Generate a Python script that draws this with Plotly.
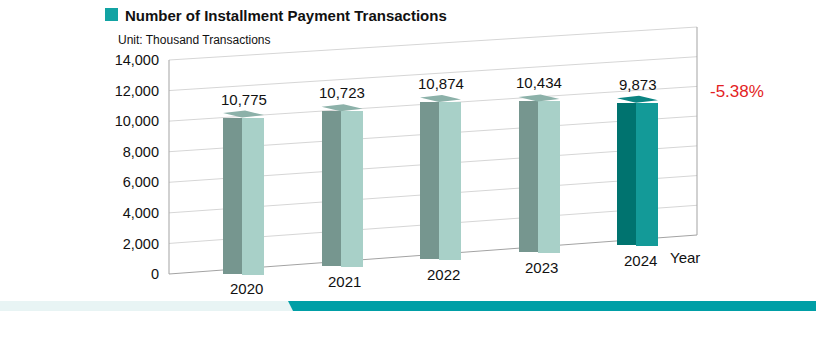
import plotly.graph_objects as go

# ---------------- data ----------------
years = ["2020", "2021", "2022", "2023", "2024"]
transactions = [10775, 10723, 10874, 10434, 9873]
y_ticks = [0, 2000, 4000, 6000, 8000, 10000, 12000, 14000]
y_tick_labels = ["0", "2,000", "4,000", "6,000", "8,000", "10,000", "12,000", "14,000"]
change_label = "-5.38%"
title_text = "Number of Installment Payment Transactions"
unit_text = "Unit: Thousand Transactions"
x_label = "Year"

# ---------------- layout geometry (pixels) ----------------
W, H = 816, 353
L, R, T, B = 169, 119, 20, 38
PW, PH = W - L - R, H - T - B
FONT = "Liberation Sans, Arial, sans-serif"

def px_x(px):
    return (px - L) / PW

def px_y(py):
    return (T + PH - py) / PH

# back wall (perspective parallelogram)
FLOOR_L, FLOOR_R, TOP_L, TOP_R = 274, 235, 60, 27
VMAX = y_ticks[-1]
k = (FLOOR_L - TOP_L) / VMAX
y_lo, y_hi = (FLOOR_L - (T + PH)) / k, (FLOOR_L - T) / k

def wall_right(v):
    py = FLOOR_R - v * (FLOOR_R - TOP_R) / VMAX
    return (FLOOR_L - py) / k

# bars (own overlaying axis for the front plane)
SLOT0_PX, SLOT_W = 242, 98.5
BASE0_PX, BASE_STEP_PX = 276, 7.05
k2 = 0.0147
x_rng = [(0 - (SLOT0_PX - L)) / SLOT_W, (PW - (SLOT0_PX - L)) / SLOT_W]
y2_lo, y2_hi = (BASE0_PX - (T + PH)) / k2, (BASE0_PX - T) / k2
wl, wr = 19 / SLOT_W, 22 / SLOT_W
RAISE_L, RAISE_R = 4.5, 2.5

n = len(years)
xs = list(range(n))
bases = [BASE_STEP_PX * i / k2 for i in xs]
left_cols = ["#76968f"] * (n - 1) + ["#00736f"]
right_cols = ["#a8d0c8"] * (n - 1) + ["#139a98"]
cap_cols = ["#8cb1a9"] * (n - 1) + ["#0b8482"]

fig = go.Figure()

# left (darker) faces
fig.add_trace(go.Bar(
    x=[i - wl / 2 for i in xs], y=[v - 2.5 / k2 for v in transactions],
    base=[b + 2.5 / k2 for b in bases], width=wl,
    marker=dict(color=left_cols, line=dict(width=0)),
    yaxis="y2", hoverinfo="skip", showlegend=False))

# right (lighter) faces
fig.add_trace(go.Bar(
    x=[i + wr / 2 for i in xs], y=[v - 1.5 / k2 for v in transactions],
    base=[b + 1.5 / k2 for b in bases], width=wr,
    marker=dict(color=right_cols, line=dict(width=0)),
    yaxis="y2", hoverinfo="skip", showlegend=False))

# top caps
for i, v in enumerate(transactions):
    top = bases[i] + v
    fig.add_trace(go.Scatter(
        x=[i, i - wl, i - wl + wr, i + wr, i],
        y=[top, top + RAISE_L / k2, top + (RAISE_L + RAISE_R) / k2,
           top + RAISE_R / k2, top],
        mode="lines", fill="toself", fillcolor=cap_cols[i],
        line=dict(width=0, color=cap_cols[i]),
        yaxis="y2", hoverinfo="skip", showlegend=False))

# ---------------- shapes ----------------
shapes = []
for v in y_ticks:
    if v == 0:
        continue
    shapes.append(dict(type="line", xref="paper", yref="y", x0=0, x1=1,
                       y0=v, y1=wall_right(v), layer="below",
                       line=dict(color="#d6d6d6", width=1)))
frame = dict(color="#a3a3a3", width=1)
shapes.append(dict(type="line", xref="paper", yref="y", x0=0, x1=1, y0=0,
                   y1=wall_right(0), layer="below", line=frame))
shapes.append(dict(type="line", xref="paper", yref="y", x0=0, x1=0, y0=0,
                   y1=VMAX, layer="below", line=frame))
shapes.append(dict(type="line", xref="paper", yref="y", x0=1, x1=1,
                   y0=wall_right(0), y1=wall_right(VMAX), layer="below", line=frame))

# title marker square
shapes.append(dict(type="rect", xref="paper", yref="paper",
                   x0=px_x(105), x1=px_x(118), y0=px_y(21), y1=px_y(8),
                   fillcolor="#12a3a3", line=dict(width=0)))

# bottom decorative strip
def path(pts):
    return "M " + " L ".join(f"{px_x(a):.5f},{px_y(b):.5f}" for a, b in pts) + " Z"

shapes.append(dict(type="path", xref="paper", yref="paper",
                   path=path([(0, 301), (288, 301), (293, 311), (0, 311)]),
                   fillcolor="#e8f4f4", line=dict(width=0)))
shapes.append(dict(type="path", xref="paper", yref="paper",
                   path=path([(288, 301), (W, 301), (W, 311), (293, 311)]),
                   fillcolor="#009fa6", line=dict(width=0)))

# ---------------- annotations ----------------
ann = []
for i, v in enumerate(transactions):
    top = bases[i] + v
    ann.append(dict(x=i + (wr - wl) / 2, y=top + (RAISE_L + RAISE_R) / k2,
                    xref="x", yref="y2",
                    text=f"{v:,}", showarrow=False, yanchor="bottom", yshift=1,
                    font=dict(family=FONT, size=15, color="#111111")))
    ann.append(dict(x=i + 4 / SLOT_W, y=bases[i], xref="x", yref="y2",
                    text=years[i], showarrow=False, yanchor="top", yshift=-2,
                    font=dict(family=FONT, size=15, color="#111111")))

ann.append(dict(x=px_x(685), y=px_y(257), xref="paper", yref="paper",
                text=x_label, showarrow=False, xanchor="center", yanchor="middle",
                font=dict(family=FONT, size=15, color="#111111")))
ann.append(dict(x=px_x(737), y=px_y(91), xref="paper", yref="paper",
                text=change_label, showarrow=False, xanchor="center", yanchor="middle",
                font=dict(family=FONT, size=17, color="#e31e24")))
ann.append(dict(x=px_x(123), y=px_y(15), xref="paper", yref="paper",
                text=f"<b>{title_text}</b>", showarrow=False, xanchor="left",
                yanchor="middle", font=dict(family=FONT, size=15, color="#111111")))
ann.append(dict(x=px_x(116), y=px_y(40), xref="paper", yref="paper",
                text=unit_text, showarrow=False, xanchor="left", yanchor="middle",
                font=dict(family=FONT, size=12, color="#111111")))

fig.update_layout(
    width=W, height=H,
    margin=dict(l=L, r=R, t=T, b=B, pad=0),
    paper_bgcolor="white", plot_bgcolor="white",
    barmode="overlay", bargap=0,
    showlegend=False,
    xaxis=dict(range=x_rng, visible=False, fixedrange=True),
    yaxis=dict(range=[y_lo, y_hi], tickvals=y_ticks, ticktext=y_tick_labels,
               showgrid=False, zeroline=False, showline=False, ticks="",
               ticklabelstandoff=9,
               tickfont=dict(family=FONT, size=14.5, color="#111111")),
    yaxis2=dict(range=[y2_lo, y2_hi], overlaying="y", visible=False),
    shapes=shapes, annotations=ann,
)

fig.write_html("out.html")
